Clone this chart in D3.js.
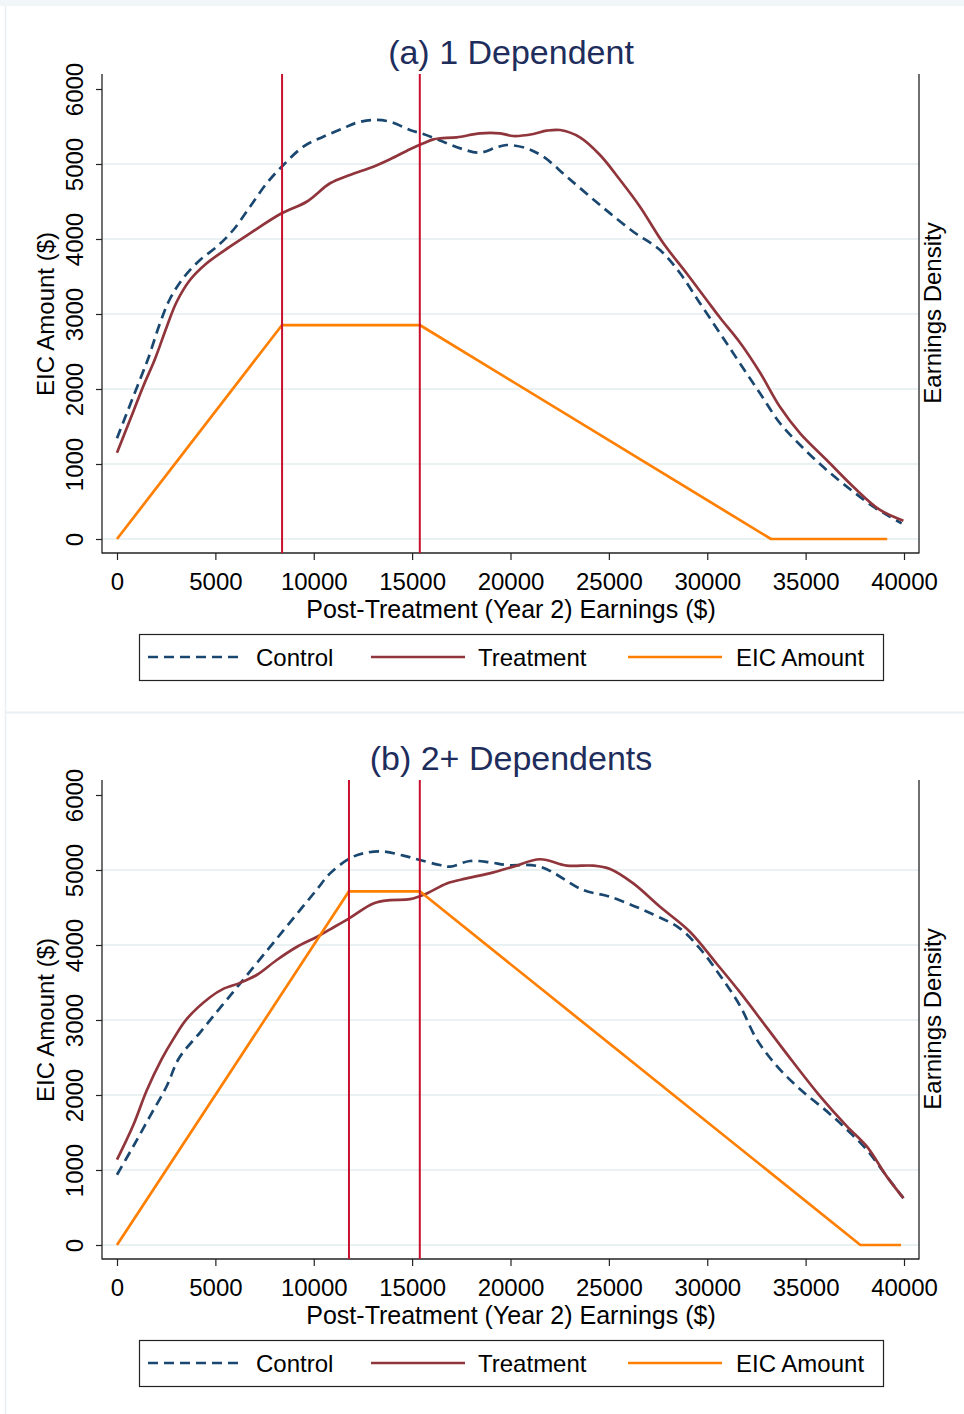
<!DOCTYPE html>
<html>
<head>
<meta charset="utf-8">
<script src="https://cdn.jsdelivr.net/npm/d3@7"></script>
<style>
  html, body { margin: 0; padding: 0; background: #ffffff; }
  svg { display: block; font-family: "Liberation Sans", Arial, sans-serif; }
</style>
</head>
<body>
<script>
// ---------------- DATA ----------------
const xTicks = [0, 5000, 10000, 15000, 20000, 25000, 30000, 35000, 40000];
const yTicks = [0, 1000, 2000, 3000, 4000, 5000, 6000];
const gridTicks = [0, 1000, 2000, 3000, 4000, 5000];
const seriesNames = ["Control", "Treatment", "EIC Amount"];
const panelTitles = ["(a) 1 Dependent", "(b) 2+ Dependents"];
const xTitle = "Post-Treatment (Year 2) Earnings ($)";
const yTitle = "EIC Amount ($)";
const y2Title = "Earnings Density";

// Panel (a): 1 dependent
const aControl = [[0,1342],[410,1620],[830,1900],[1340,2240],[1590,2409],[2190,2880],[2690,3200],[3370,3480],[4220,3720],[5070,3897],[5910,4120],[6760,4431],[7610,4743],[8370,4964],[9470,5231],[10480,5364],[11500,5476],[12180,5551],[13030,5587],[13880,5564],[14890,5453],[15570,5400],[16580,5297],[17600,5196],[18450,5151],[19300,5223],[19810,5253],[20820,5209],[21670,5097],[22860,4831],[24550,4453],[26240,4097],[27600,3853],[28620,3543],[29630,3143],[30650,2743],[31660,2343],[32680,1943],[33700,1543],[34720,1253],[36070,920],[37420,631],[38440,431],[39290,297],[39880,209]];
const aTreatment = [[0,1151],[830,1700],[1340,2040],[1930,2400],[2530,2831],[3030,3160],[3710,3453],[4560,3676],[5740,3897],[6760,4076],[8370,4343],[9640,4497],[10830,4743],[11840,4853],[13030,4964],[13880,5063],[14890,5196],[15570,5276],[16080,5329],[16420,5342],[17270,5356],[18450,5409],[19470,5409],[20140,5373],[21160,5400],[21840,5444],[22520,5453],[23530,5356],[24550,5120],[25570,4787],[26580,4431],[27770,3943],[28950,3543],[29970,3187],[30650,2950],[31660,2620],[32680,2220],[33700,1760],[34720,1409],[36070,1053],[37420,697],[38780,387],[39970,244]];
const aEIC = [[0,0],[8390,2853],[15390,2853],[33241,0],[39150,0]];
const aKinks = [8390, 15390];

// Panel (b): 2+ dependents
const bControl = [[0,937],[830,1317],[1680,1719],[2530,2120],[3150,2490],[4220,2833],[5070,3107],[5910,3376],[6590,3594],[7610,3921],[8450,4191],[9300,4464],[10150,4737],[10830,4955],[11840,5156],[12520,5223],[13540,5246],[14550,5192],[15400,5133],[16420,5066],[16930,5045],[17940,5120],[18960,5102],[19810,5066],[21500,5045],[23700,4732],[25060,4643],[27260,4407],[28620,4219],[29630,3951],[30650,3594],[31660,3192],[32510,2745],[33530,2388],[34720,2076],[36070,1785],[37090,1540],[38100,1272],[39120,915],[39970,625]];
const bTreatment = [[0,1138],[830,1600],[1510,2060],[2270,2478],[2860,2745],[3540,3013],[4730,3304],[5400,3415],[6250,3495],[7100,3600],[8120,3800],[9130,3973],[10150,4107],[10830,4209],[11840,4362],[13030,4553],[13880,4598],[14890,4611],[15740,4687],[16760,4821],[17770,4888],[19130,4968],[20140,5045],[21500,5143],[22860,5058],[24210,5058],[25060,5013],[26240,4821],[27600,4509],[29130,4174],[30480,3750],[31660,3371],[33020,2902],[34380,2433],[35730,1986],[37090,1585],[38100,1317],[39120,915],[39970,625]];
const bEIC = [[0,0],[11790,4716],[15390,4716],[37783,0],[39850,0]];
const bKinks = [11790, 15390];

// ---------------- STYLE ----------------
const W = 964, H = 1414;
const colors = { control: "#1a476f", treatment: "#90353b", eic: "#ff7f00", kink: "#c8102e", title: "#1e2d5c", grid: "#eaf1f3" };

const svg = d3.select("body").append("svg").attr("width", W).attr("height", H);

svg.append("rect").attr("x", 0).attr("y", 0).attr("width", W).attr("height", H).attr("fill", "#fff");
svg.append("rect").attr("x", 0).attr("y", 0).attr("width", W).attr("height", 6).attr("fill", "#f1f6f8");
svg.append("line").attr("x1", 5.5).attr("x2", 5.5).attr("y1", 6).attr("y2", H).attr("stroke", "#e8f0f3").attr("stroke-width", 1.5);
svg.append("line").attr("x1", 5).attr("x2", W).attr("y1", 712.5).attr("y2", 712.5).attr("stroke", "#e8f0f3").attr("stroke-width", 2);

function drawPanel(off, title, control, treatment, eic, kinks) {
  const g = svg.append("g").attr("transform", `translate(0,${off})`);
  const x = d3.scaleLinear().domain([0, 40000]).range([117, 904]);
  const y = d3.scaleLinear().domain([0, 6000]).range([539, 89]);
  const frameL = 102, frameR = 919, frameT = 74, frameB = 553;

  g.append("text").attr("x", 511).attr("y", 64).attr("text-anchor", "middle")
    .attr("font-size", 34).attr("fill", colors.title).text(title);

  g.selectAll(".grid").data(gridTicks).enter().append("line")
    .attr("x1", frameL).attr("x2", frameR)
    .attr("y1", d => y(d)).attr("y2", d => y(d))
    .attr("stroke", colors.grid).attr("stroke-width", 2);

  const yAxis = d3.axisLeft(y).tickValues(yTicks).tickSize(6).tickPadding(0).tickFormat(d3.format("d"));
  const ya = g.append("g").attr("transform", `translate(${frameL},0)`).call(yAxis);
  ya.select(".domain").remove();
  ya.selectAll(".tick line").attr("stroke", "#222").attr("stroke-width", 1.2);
  ya.selectAll(".tick text")
    .attr("x", null).attr("dy", null).attr("text-anchor", "middle")
    .attr("transform", "translate(-19,0) rotate(-90)")
    .attr("font-size", 24).attr("font-family", "Liberation Sans, Arial, sans-serif").attr("fill", "#000");
  g.append("line").attr("x1", frameL).attr("x2", frameL).attr("y1", frameT).attr("y2", frameB + 0.5)
    .attr("stroke", "#222").attr("stroke-width", 1.3);

  const xAxis = d3.axisBottom(x).tickValues(xTicks).tickSize(7).tickPadding(0).tickFormat(d3.format("d"));
  const xa = g.append("g").attr("transform", `translate(0,${frameB})`).call(xAxis);
  xa.select(".domain").remove();
  xa.selectAll(".tick line").attr("stroke", "#222").attr("stroke-width", 1.2);
  xa.selectAll(".tick text").attr("y", 37).attr("dy", null)
    .attr("font-size", 24).attr("font-family", "Liberation Sans, Arial, sans-serif").attr("fill", "#000");
  g.append("line").attr("x1", frameL).attr("x2", frameR).attr("y1", frameB).attr("y2", frameB)
    .attr("stroke", "#222").attr("stroke-width", 1.3);

  g.append("line").attr("x1", frameR).attr("x2", frameR).attr("y1", frameT).attr("y2", frameB + 0.5)
    .attr("stroke", "#222").attr("stroke-width", 1.3);

  g.append("text").attr("transform", "translate(54,314) rotate(-90)").attr("text-anchor", "middle")
    .attr("font-size", 24).attr("fill", "#000").text(yTitle);
  g.append("text").attr("transform", "translate(941,313) rotate(-90)").attr("text-anchor", "middle")
    .attr("font-size", 24).attr("fill", "#000").text(y2Title);
  g.append("text").attr("x", 511).attr("y", 618).attr("text-anchor", "middle")
    .attr("font-size", 25).attr("fill", "#000").text(xTitle);

  const smooth = d3.line().x(d => x(d[0])).y(d => y(d[1])).curve(d3.curveCatmullRom.alpha(0.5));
  const straight = d3.line().x(d => x(d[0])).y(d => y(d[1]));

  g.append("path").datum(control).attr("d", smooth).attr("fill", "none")
    .attr("stroke", colors.control).attr("stroke-width", 2.7).attr("stroke-dasharray", "10,6");
  g.append("path").datum(treatment).attr("d", smooth).attr("fill", "none")
    .attr("stroke", colors.treatment).attr("stroke-width", 2.7);
  g.append("path").datum(eic).attr("d", straight).attr("fill", "none")
    .attr("stroke", colors.eic).attr("stroke-width", 2.7).attr("stroke-linejoin", "round");

  g.selectAll(".kink").data(kinks).enter().append("line")
    .attr("x1", d => x(d)).attr("x2", d => x(d)).attr("y1", frameT).attr("y2", frameB)
    .attr("stroke", colors.kink).attr("stroke-width", 2);

  const lg = g.append("g");
  lg.append("rect").attr("x", 139.5).attr("y", 634.5).attr("width", 744).attr("height", 46)
    .attr("fill", "#fff").attr("stroke", "#222").attr("stroke-width", 1.2);
  const items = [
    { name: seriesNames[0], x0: 148, x1: 243, tx: 256, color: colors.control, dash: "10,6" },
    { name: seriesNames[1], x0: 371, x1: 465, tx: 478, color: colors.treatment, dash: null },
    { name: seriesNames[2], x0: 628, x1: 722, tx: 736, color: colors.eic, dash: null }
  ];
  items.forEach(it => {
    lg.append("line").attr("x1", it.x0).attr("x2", it.x1).attr("y1", 657).attr("y2", 657)
      .attr("stroke", it.color).attr("stroke-width", 2.7).attr("stroke-dasharray", it.dash);
    lg.append("text").attr("x", it.tx).attr("y", 666).attr("font-size", 24).attr("fill", "#000").text(it.name);
  });
}

drawPanel(0, panelTitles[0], aControl, aTreatment, aEIC, aKinks);
drawPanel(706, panelTitles[1], bControl, bTreatment, bEIC, bKinks);
</script>
</body>
</html>
